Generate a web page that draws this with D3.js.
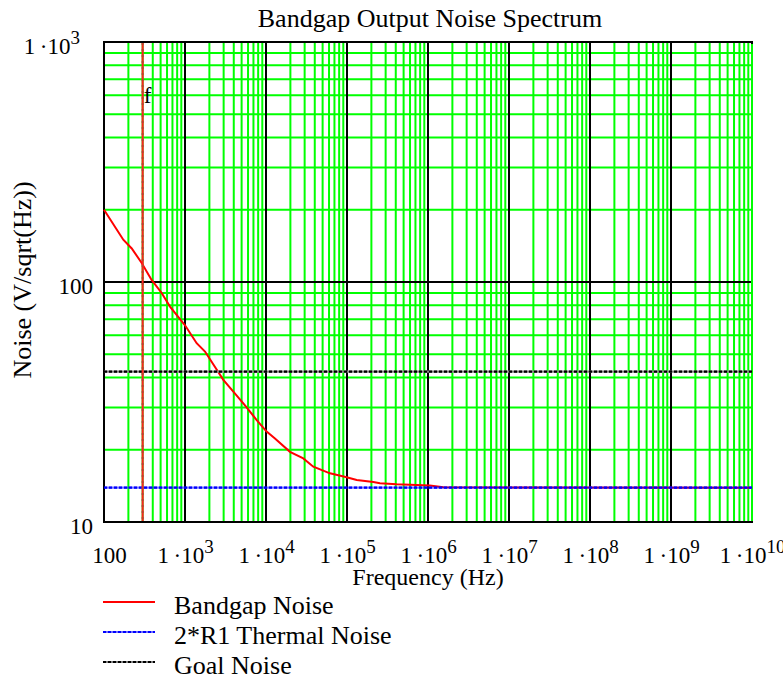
<!DOCTYPE html>
<html>
<head>
<meta charset="utf-8">
<script src="https://cdn.jsdelivr.net/npm/d3@7"></script>
<style>
  html, body { margin: 0; padding: 0; background: #fff; }
  svg text { font-family: "Liberation Serif", "Times New Roman", serif !important; fill: #000; }
</style>
</head>
<body>
<svg id="chart" width="783" height="679"></svg>
<script>
// Bandgap output noise vs frequency (log-log)
const freqBandgap = [100, 173, 220, 292, 387, 515, 653, 1000, 1393, 1766, 2973, 4300, 5600, 7674, 10180, 12900, 19770, 28870, 38380, 61660, 99000, 131800, 211500, 255000, 410000, 1050000, 1550000, 1e10];
const noiseBandgap = [200, 150, 138, 120, 102, 90, 79, 66, 55.6, 51.3, 39.1, 33.8, 30.4, 26.6, 23.8, 22.3, 19.6, 18.4, 17.0, 15.95, 15.35, 14.96, 14.68, 14.5, 14.36, 14.2, 13.95, 13.9];
const freqFlat = [100, 1e10];
const noiseThermal = [13.9, 13.9];
const noiseGoal = [42.3, 42.3];
const markerFreq = 300;          // vertical marker "f"
const xTickValues = [1e2, 1e3, 1e4, 1e5, 1e6, 1e7, 1e8, 1e9, 1e10];
const yTickValues = [10, 100, 1000];
const legendLabels = ["Bandgap Noise", "2*R1 Thermal Noise", "Goal Noise"];

const svg = d3.select("#chart");
const pLeft = 104, pRight = 752, pTop = 42, pBottom = 522;
const x = d3.scaleLog().domain([1e2, 1e10]).range([pLeft, pRight]);
const y = d3.scaleLog().domain([10, 1000]).range([pBottom, pTop]);

const GREEN = "#00ff00";
const SERIF = "'Liberation Serif', 'Times New Roman', serif";

// minor grid (2..9 within each decade)
const xMinor = [];
for (let e = 2; e < 10; e++) for (let k = 2; k <= 9; k++) xMinor.push(k * Math.pow(10, e));
const yMinor = [];
for (let e = 1; e < 3; e++) for (let k = 2; k <= 9; k++) yMinor.push(k * Math.pow(10, e));

const grid = svg.append("g");
grid.selectAll("line.vx").data(xMinor).join("line")
  .attr("class", "vx")
  .attr("x1", d => x(d)).attr("x2", d => x(d))
  .attr("y1", pTop).attr("y2", pBottom)
  .attr("stroke", GREEN).attr("stroke-width", 2);
grid.selectAll("line.hy").data(yMinor).join("line")
  .attr("class", "hy")
  .attr("x1", pLeft).attr("x2", pRight)
  .attr("y1", d => y(d)).attr("y2", d => y(d))
  .attr("stroke", GREEN).attr("stroke-width", 2);

// decade lines
grid.selectAll("line.dx").data(xTickValues.slice(1, -1)).join("line")
  .attr("class", "dx")
  .attr("x1", d => x(d)).attr("x2", d => x(d))
  .attr("y1", pTop).attr("y2", pBottom)
  .attr("stroke", "#000").attr("stroke-width", 2);
grid.selectAll("line.dy").data(yTickValues.slice(1, -1)).join("line")
  .attr("class", "dy")
  .attr("x1", pLeft).attr("x2", pRight)
  .attr("y1", d => y(d)).attr("y2", d => y(d))
  .attr("stroke", "#000").attr("stroke-width", 2);

// frame
svg.append("rect")
  .attr("x", pLeft).attr("y", pTop)
  .attr("width", pRight - pLeft).attr("height", pBottom - pTop)
  .attr("fill", "none").attr("stroke", "#000").attr("stroke-width", 2);
svg.append("line")
  .attr("x1", x(1e10)).attr("x2", x(1e10))
  .attr("y1", pTop + 2).attr("y2", pBottom - 1)
  .attr("stroke", GREEN).attr("stroke-width", 2);

// tick label builder: 100, 10, or 1·10^n
function labelParts(v) {
  const e = Math.round(Math.log10(v));
  if (e <= 2) return { base: String(Math.round(v)), sup: null };
  return { base: "1\u2009\u00b710", sup: String(e) };
}
function fillLabel(textSel) {
  textSel.each(function(d) {
    const t = d3.select(this);
    const p = labelParts(d);
    t.text(null);
    t.append("tspan").text(p.base);
    if (p.sup) t.append("tspan").attr("dy", -10).attr("font-size", 19).text(p.sup);
  });
}

// x axis
const gx = svg.append("g").attr("transform", `translate(0,${pBottom})`)
  .call(d3.axisBottom(x).tickValues(xTickValues).tickSize(0));
gx.attr("font-family", SERIF);
gx.select(".domain").remove();
gx.selectAll("text")
  .attr("y", 41).attr("dy", null)
  .attr("font-size", 23)
  .attr("text-anchor", "middle")
  .attr("dx", d => d === 100 ? 5 : 0)
  .call(fillLabel);

// y axis
const gy = svg.append("g").attr("transform", `translate(${pLeft},0)`)
  .call(d3.axisLeft(y).tickValues(yTickValues).tickSize(0));
gy.attr("font-family", SERIF);
gy.select(".domain").remove();
gy.selectAll("text")
  .attr("x", d => d >= 1000 ? -24 : -11).attr("dy", null).attr("y", 11.5)
  .attr("font-size", 23)
  .attr("text-anchor", "end")
  .call(fillLabel);

// series
const line = d3.line().x(d => x(d[0])).y(d => y(d[1]));
const bandgapPts = freqBandgap.map((f, i) => [f, noiseBandgap[i]]);
const thermalPts = freqFlat.map((f, i) => [f, noiseThermal[i]]);
const goalPts = freqFlat.map((f, i) => [f, noiseGoal[i]]);

const plot = svg.append("g");
plot.append("path").attr("d", line(bandgapPts))
  .attr("fill", "none").attr("stroke", "#ff0000").attr("stroke-width", 2);

// thermal line lets the red trace show through its gaps
plot.append("path").attr("d", line(thermalPts))
  .attr("fill", "none").attr("stroke", "#0000ff").attr("stroke-opacity", 0.55).attr("stroke-width", 2.2);
plot.append("path").attr("d", line(thermalPts))
  .attr("fill", "none").attr("stroke", "#0000ff").attr("stroke-width", 2.2).attr("stroke-dasharray", "3,2");
// goal line: black dashes over grey
plot.append("path").attr("d", line(goalPts))
  .attr("fill", "none").attr("stroke", "#808080").attr("stroke-width", 2.2);
plot.append("path").attr("d", line(goalPts))
  .attr("fill", "none").attr("stroke", "#000").attr("stroke-width", 2.2).attr("stroke-dasharray", "3,2");

// vertical marker at f
plot.append("line")
  .attr("x1", x(markerFreq)).attr("x2", x(markerFreq))
  .attr("y1", y(1000) + 1).attr("y2", y(10) - 1)
  .attr("stroke", "#ff2020").attr("stroke-width", 2);
plot.append("line")
  .attr("x1", x(markerFreq)).attr("x2", x(markerFreq))
  .attr("y1", y(1000) + 1).attr("y2", y(10) - 1)
  .attr("stroke", "#c04030").attr("stroke-width", 2).attr("stroke-dasharray", "2,4");
svg.append("text")
  .attr("x", x(markerFreq) + 1).attr("y", 103)
  .attr("font-size", 23).text("f");

// titles
svg.append("text").attr("x", 430).attr("y", 27)
  .attr("text-anchor", "middle").attr("font-size", 26)
  .text("Bandgap Output Noise Spectrum");
svg.append("text").attr("x", 428).attr("y", 585)
  .attr("text-anchor", "middle").attr("font-size", 24)
  .text("Frequency (Hz)");
svg.append("text")
  .attr("transform", "translate(31,280) rotate(-90)")
  .attr("text-anchor", "middle").attr("font-size", 26)
  .text("Noise (V/sqrt(Hz))");

// legend
const legend = svg.append("g");
const legendStyles = [
  { base: "#ff0000", light: "#ff0000" },
  { base: "#0000ff", light: "#7070ff" },
  { base: "#000000", light: "#808080" }
];
legendLabels.forEach((lab, i) => {
  const ly = 602 + i * 30;
  const st = legendStyles[i];
  legend.append("line").attr("x1", 103).attr("x2", 155).attr("y1", ly).attr("y2", ly)
    .attr("stroke", st.light).attr("stroke-width", 2.2);
  if (i > 0) legend.append("line").attr("x1", 103).attr("x2", 155).attr("y1", ly).attr("y2", ly)
    .attr("stroke", st.base).attr("stroke-width", 2.2).attr("stroke-dasharray", "3,2");
  legend.append("text").attr("x", 174).attr("y", ly + 11.5)
    .attr("font-size", 26).text(lab);
});
</script>
</body>
</html>
